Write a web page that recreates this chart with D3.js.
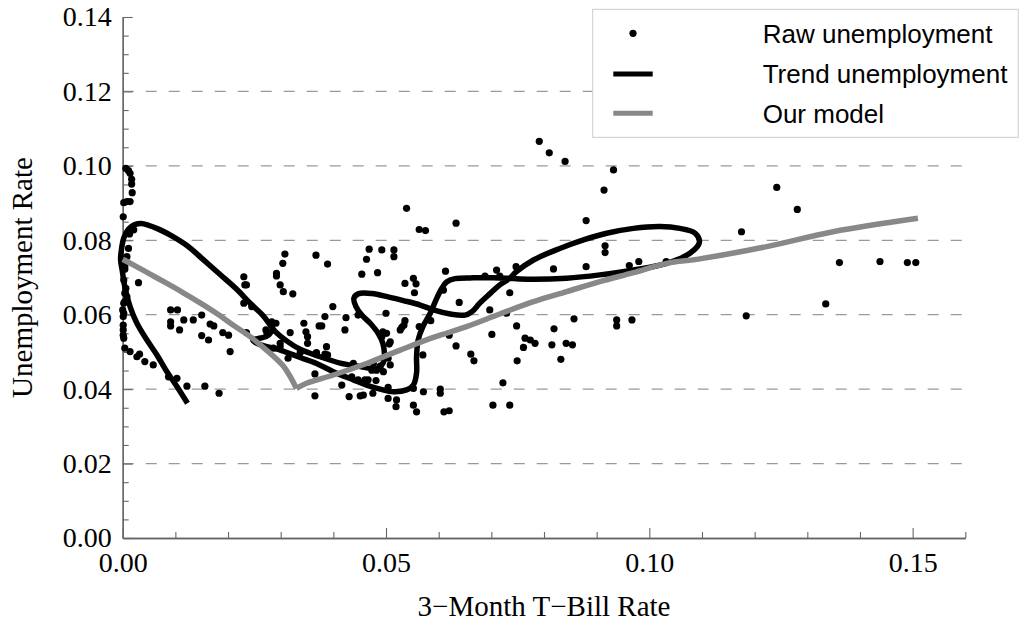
<!DOCTYPE html>
<html>
<head>
<meta charset="utf-8">
<script src="https://cdn.jsdelivr.net/npm/d3@7"></script>
<style>
  html, body { margin: 0; padding: 0; background: #fff; }
  svg { display: block; }
</style>
</head>
<body>
<svg id="chart" width="1020" height="627"></svg>
<script>
// ---------------- DATA ----------------
const rawRate = [
  0.0006,0.0011,0.0014,0.0017,0.0017,0.0018,0.0002,0.0008,0.0014,0.0001,0.0021,0.0013,0.0011,0.0008,0.0004,
  0.0002,0.0004,0.0002,0.0006,0.0004,0.0008,0.0004,0.0002,0.0000,0.0002,0.0001,0.0001,0.0001,0.0001,0.0002,
  0.0004,0.0014,0.0030,0.0027,0.0032,0.0042,0.0058,0.0087,0.0103,0.0122,0.0156,0.0183,
  0.0091,0.0104,0.0091,0.0091,0.0108,0.0116,0.0134,0.0150,0.0150,0.0163,0.0166,0.0173,0.0190,0.0201,0.0204,
  0.0230,0.0232,0.0235,0.0230,0.0245,0.0235,0.0254,0.0272,0.0274,0.0283,0.0291,0.0286,0.0299,0.0299,0.0314,
  0.0318,0.0337,0.0344,0.0348,0.0351,0.0351,0.0368,0.0373,0.0292,0.0292,0.0304,0.0308,0.0299,0.0305,0.0323,
  0.0367,0.0365,0.0365,
  0.0539,0.0563,0.0575,0.0633,0.0389,0.0468,0.0463,0.0492,0.0515,0.0515,0.0454,0.0484,0.0536,0.0552,0.0557,
  0.0554,0.0613,0.0399,0.0384,0.0378,0.0367,0.0384,0.0387,0.0389,0.0424,0.0422,0.0447,0.0500,0.0536,0.0534,
  0.0527,0.0530,0.0494,0.0501,0.0492,0.0508,0.0506,0.0416,0.0430,0.0451,0.0457,0.0438,0.0435,0.0447,0.0460,
  0.0466,0.0481,0.0473,0.0482,0.0495,0.0508,0.0504,0.0489,0.0476,0.0475,0.0504,0.0504,0.0520,0.0519,0.0552,
  0.0558,0.0552,0.0571,0.0603,0.0603,0.0610,0.0620,0.0570,0.0620,0.0633,0.0661,0.0667,0.0639,0.0697,0.0701,
  0.0735,0.0710,0.0716,0.0688,0.0747,0.0748,0.0749,0.0722,0.0703,0.0735,0.0609,0.0585,0.0563,
  0.0791,0.0810,0.0840,0.0932,0.0914,0.0880,0.0916,0.0916,0.0818,0.0880,0.0962,0.0980,0.1032,0.0729,0.0764,
  0.0774,0.0783,0.0761,0.0819,0.0815,0.0842,0.0854,0.0832,0.0857,0.0938,0.0938,0.0967,
  0.1242,0.1281,0.1175,0.1361,0.1438,0.1490,0.1506,0.1335,0.1184
];
const rawUnemp = [
  0.0993,0.0987,0.0980,0.0964,0.0951,0.0928,0.0901,0.0904,0.0904,0.0863,0.0828,0.0817,0.0778,0.0756,0.0729,
  0.0747,0.0722,0.0693,0.0671,0.0658,0.0648,0.0635,0.0631,0.0613,0.0604,0.0595,0.0572,0.0559,0.0545,0.0537,
  0.0510,0.0501,0.0686,0.0487,0.0494,0.0474,0.0465,0.0433,0.0429,0.0408,0.0408,0.0389,
  0.0613,0.0613,0.0581,0.0570,0.0559,0.0586,0.0586,0.0599,0.0544,0.0532,0.0575,0.0570,0.0552,0.0545,0.0501,
  0.0702,0.0680,0.0680,0.0631,0.0622,0.0552,0.0532,0.0559,0.0548,0.0581,0.0577,0.0510,0.0523,0.0515,0.0483,
  0.0552,0.0498,0.0577,0.0554,0.0541,0.0523,0.0498,0.0570,0.0711,0.0704,0.0738,0.0763,0.0680,0.0662,0.0656,
  0.0760,0.0441,0.0382,
  0.0886,0.0829,0.0826,0.0846,0.0736,0.0776,0.0749,0.0774,0.0774,0.0756,0.0709,0.0713,0.0684,0.0698,0.0683,
  0.0659,0.0717,0.0622,0.0595,0.0570,0.0496,0.0494,0.0514,0.0492,0.0592,0.0559,0.0599,0.0604,0.0584,0.0572,
  0.0559,0.0566,0.0554,0.0550,0.0541,0.0527,0.0521,0.0411,0.0380,0.0382,0.0384,0.0469,0.0433,0.0425,0.0425,
  0.0425,0.0423,0.0451,0.0451,0.0447,0.0465,0.0483,0.0462,0.0469,0.0389,0.0405,0.0375,0.0371,0.0353,0.0357,
  0.0339,0.0402,0.0393,0.0400,0.0389,0.0339,0.0342,0.0492,0.0545,0.0516,0.0494,0.0476,0.0633,0.0613,0.0547,
  0.0659,0.0720,0.0704,0.0704,0.0729,0.0570,0.0476,0.0417,0.0357,0.0357,0.0666,0.0584,0.0568,
  0.1066,0.1035,0.1012,0.0989,0.0935,0.0853,0.0785,0.0767,0.0723,0.0729,0.0732,0.0743,0.0743,0.0604,0.0537,
  0.0532,0.0523,0.0512,0.0562,0.0519,0.0523,0.0519,0.0480,0.0589,0.0586,0.0570,0.0586,
  0.0942,0.0883,0.0823,0.0740,0.0743,0.0740,0.0740,0.0629,0.0597
];

// Trend unemployment path (ordered)
const trendRate = [
  0.0276,0.0284,0.0282,0.0272,0.0257,0.0247,0.0255,0.0267,0.0299,0.0337,0.0368,0.0400,0.0438,0.0463,0.0489,
  0.0514,0.0539,0.0552,0.0558,0.0558,0.0561,0.0570,0.0584,0.0595,0.0606,0.0615,0.0631,0.0666,0.0704,0.0742,
  0.0780,0.0843,0.0906,0.0970,0.1033,0.1077,0.1095,0.1087,0.1058,0.1020,0.0970,0.0919,0.0875,0.0830,0.0780,
  0.0747,0.0735,0.0716,0.0697,0.0678,0.0663,0.0650,0.0622,0.0590,0.0565,0.0533,0.0504,0.0473,0.0447,0.0439,
  0.0443,0.0454,0.0470,0.0485,0.0494,0.0497,0.0494,0.0482,0.0451,0.0413,0.0375,0.0337,0.0312,0.0289,0.0267,
  0.0242,0.0216,0.0185,0.0153,0.0122,0.0093,0.0068,0.0048,0.0035,0.0023,0.0011,0.0002,-0.0002,-0.0004,-0.0001,
  0.0004,0.0014,0.0027,0.0046,0.0065,0.0084,0.0103,0.0123
];
const trendUnemp = [
  0.0583,0.0570,0.0554,0.0541,0.0536,0.0531,0.0523,0.0517,0.0505,0.0485,0.0469,0.0447,0.0425,0.0411,0.0400,
  0.0393,0.0398,0.0411,0.0443,0.0487,0.0532,0.0568,0.0604,0.0640,0.0671,0.0688,0.0697,0.0699,0.0699,0.0697,
  0.0695,0.0698,0.0707,0.0720,0.0738,0.0765,0.0794,0.0819,0.0832,0.0837,0.0832,0.0819,0.0801,0.0778,0.0747,
  0.0715,0.0698,0.0680,0.0656,0.0631,0.0608,0.0599,0.0602,0.0613,0.0626,0.0638,0.0648,0.0657,0.0656,0.0644,
  0.0622,0.0599,0.0577,0.0550,0.0523,0.0492,0.0469,0.0455,0.0461,0.0470,0.0487,0.0507,0.0529,0.0556,0.0597,
  0.0631,0.0669,0.0708,0.0748,0.0786,0.0812,0.0830,0.0841,0.0845,0.0842,0.0830,0.0806,0.0779,0.0747,0.0720,
  0.0675,0.0622,0.0577,0.0532,0.0492,0.0447,0.0407,0.0362
];

// Our model (two smooth pieces meeting at a kink)
const modelRateLeft  = [0.0000,0.0020,0.0052,0.0084,0.0115,0.0147,0.0178,0.0210,0.0242,0.0273,0.0305,0.0330];
const modelUnempLeft = [0.0749,0.0734,0.0709,0.0684,0.0659,0.0632,0.0604,0.0572,0.0541,0.0505,0.0462,0.0402];
const modelRateRight  = [0.0330,0.0349,0.0400,0.0463,0.0527,0.0590,0.0653,0.0716,0.0780,0.0843,0.0906,0.0970,0.1033,0.1096,0.1223,0.1349,0.1510];
const modelUnempRight = [0.0402,0.0416,0.0438,0.0469,0.0505,0.0539,0.0568,0.0602,0.0635,0.0662,0.0689,0.0713,0.0738,0.0750,0.0783,0.0823,0.0859];

const xMajorTicks = [0, 0.05, 0.10, 0.15];
const xMinorTicks = [0.01,0.02,0.03,0.04,0.06,0.07,0.08,0.09,0.11,0.12,0.13,0.14,0.16];
const yMajorTicks = [0, 0.02, 0.04, 0.06, 0.08, 0.10, 0.12, 0.14];
const yMinorTicks = [0.005,0.01,0.015,0.025,0.03,0.035,0.045,0.05,0.055,0.065,0.07,0.075,0.085,0.09,0.095,0.105,0.11,0.115,0.125,0.13,0.135];
const gridValues = [0.02, 0.04, 0.06, 0.08, 0.10, 0.12];
const legendLabels = ["Raw unemployment", "Trend unemployment", "Our model"];
const xTitle = "3\u2212Month T\u2212Bill Rate";
const yTitle = "Unemployment Rate";

// ---------------- CHART ----------------
const svg = d3.select("#chart");
const x = d3.scaleLinear().domain([0, 0.16]).range([122.7, 965.3]);
const y = d3.scaleLinear().domain([0, 0.14]).range([538, 17]);
const serif = "'Liberation Serif', 'Times New Roman', serif";
const sans = "'Liberation Sans', Arial, sans-serif";
const axisColor = "#666";

// gridlines
svg.append("g").selectAll("line").data(gridValues).join("line")
  .attr("x1", x(0)).attr("x2", x(0.16))
  .attr("y1", d => y(d)).attr("y2", d => y(d))
  .attr("stroke", "#999").attr("stroke-width", 1.3)
  .attr("stroke-dasharray", "11,12");

// axes
function styleAxis(g) {
  g.select(".domain").attr("stroke", axisColor).attr("stroke-width", 1.3);
  g.selectAll(".tick line").attr("stroke", axisColor).attr("stroke-width", 1.1);
  g.selectAll("text").attr("fill", "#000").style("font-family", serif).style("font-size", "28px");
}
const xAxisMinor = svg.append("g").attr("transform", `translate(0,${y(0)})`)
  .call(d3.axisBottom(x).tickValues(xMinorTicks).tickSize(-6).tickSizeOuter(0).tickFormat(""));
styleAxis(xAxisMinor);
const xAxis = svg.append("g").attr("transform", `translate(0,${y(0)})`)
  .call(d3.axisBottom(x).tickValues(xMajorTicks).tickSize(-10).tickSizeOuter(0).tickPadding(14).tickFormat(d3.format(".2f")));
styleAxis(xAxis);

const yAxisMinor = svg.append("g").attr("transform", `translate(${x(0)},0)`)
  .call(d3.axisLeft(y).tickValues(yMinorTicks).tickSize(-6).tickSizeOuter(0).tickFormat(""));
styleAxis(yAxisMinor);
const yAxis = svg.append("g").attr("transform", `translate(${x(0)},0)`)
  .call(d3.axisLeft(y).tickValues(yMajorTicks).tickSize(-10).tickSizeOuter(0).tickPadding(11).tickFormat(d3.format(".2f")));
styleAxis(yAxis);

// axis titles
svg.append("text")
  .attr("x", (x(0) + x(0.16)) / 2).attr("y", 616)
  .attr("text-anchor", "middle")
  .style("font-family", serif).style("font-size", "29px")
  .text(xTitle);
svg.append("text")
  .attr("transform", `translate(32,${(y(0) + y(0.14)) / 2}) rotate(-90)`)
  .attr("text-anchor", "middle")
  .style("font-family", serif).style("font-size", "29px")
  .text(yTitle);

// raw points
const raw = rawRate.map((r, i) => ({ r, u: rawUnemp[i] }));
svg.append("g").selectAll("circle").data(raw).join("circle")
  .attr("cx", d => x(d.r)).attr("cy", d => y(d.u)).attr("r", 3.6)
  .attr("fill", "#000");

// trend line
const trend = trendRate.map((r, i) => ({ r, u: trendUnemp[i] }));
const smooth = d3.line().x(d => x(d.r)).y(d => y(d.u)).curve(d3.curveCatmullRom.alpha(0.5));
svg.append("path").datum(trend).attr("d", smooth)
  .attr("fill", "none").attr("stroke", "#000").attr("stroke-width", 5.5)
  .attr("stroke-linejoin", "round");

// model line (two pieces)
const modelL = modelRateLeft.map((r, i) => ({ r, u: modelUnempLeft[i] }));
const modelR = modelRateRight.map((r, i) => ({ r, u: modelUnempRight[i] }));
[modelL, modelR].forEach(seg => {
  svg.append("path").datum(seg).attr("d", smooth)
    .attr("fill", "none").attr("stroke", "#888").attr("stroke-width", 5.5)
    .attr("stroke-linejoin", "miter");
});

// legend
const lg = svg.append("g");
lg.append("rect").attr("x", 592.7).attr("y", 9.3).attr("width", 425.5).attr("height", 128)
  .attr("fill", "#fff").attr("stroke", "#ccc").attr("stroke-width", 1);
const rowsY = [33.3, 74, 113.3];
lg.append("circle").attr("cx", 633).attr("cy", rowsY[0]).attr("r", 3.6).attr("fill", "#000");
lg.append("line").attr("x1", 613.3).attr("x2", 652.7).attr("y1", rowsY[1]).attr("y2", rowsY[1])
  .attr("stroke", "#000").attr("stroke-width", 5);
lg.append("line").attr("x1", 613.3).attr("x2", 652.7).attr("y1", rowsY[2]).attr("y2", rowsY[2])
  .attr("stroke", "#888").attr("stroke-width", 5);
lg.selectAll("text.lab").data(legendLabels).join("text").attr("class", "lab")
  .attr("x", 762.7).attr("y", (d, i) => rowsY[i] + 9.3)
  .style("font-family", sans).style("font-size", "26px").attr("fill", "#000")
  .text(d => d);
</script>
</body>
</html>
